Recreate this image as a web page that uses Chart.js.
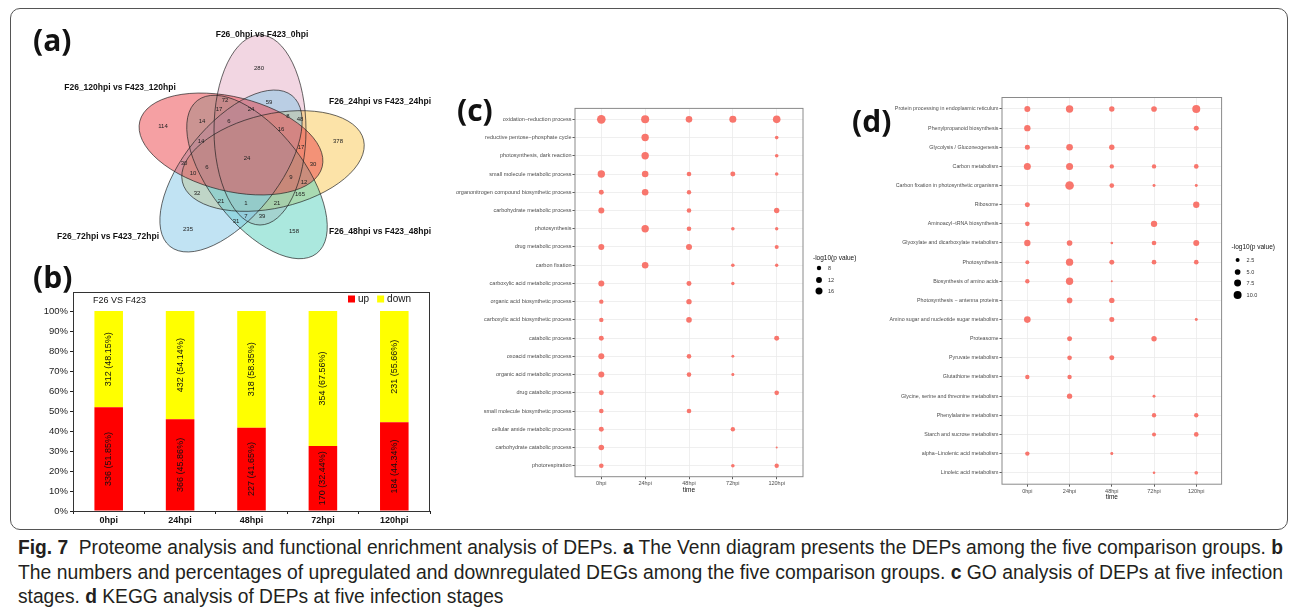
<!DOCTYPE html>
<html><head><meta charset="utf-8">
<script src="https://cdn.jsdelivr.net/npm/chart.js@4.4.0/dist/chart.umd.min.js"></script>
<style>
html,body{margin:0;padding:0;background:#fff;}
body{width:1295px;height:613px;position:relative;overflow:hidden;font-family:"Liberation Sans",Arial,sans-serif;}
canvas{position:absolute;}
.plabel{position:absolute;font-family:"Open Sans","Liberation Sans",sans-serif;font-weight:700;font-size:30px;line-height:1;color:#111;}
#frame{position:absolute;left:10px;top:8px;width:1276px;height:520px;border:1px solid #555;border-radius:10px;}
.cap{position:absolute;left:18px;white-space:nowrap;font-family:"Liberation Sans Narrow","Liberation Sans",sans-serif;font-size:20.5px;line-height:22px;color:#231F20;transform-origin:0 0;}
.cap b{font-weight:700;}
</style></head><body>
<div id="frame"></div>
<canvas id="ca" width="420" height="250" style="left:30px;top:20px"></canvas>
<canvas id="cb" width="420" height="250" style="left:20px;top:280px"></canvas>
<canvas id="cc" width="420" height="410" style="left:450px;top:90px"></canvas>
<canvas id="cd" width="420" height="420" style="left:870px;top:85px"></canvas>
<div class="plabel" style="left:33px;top:25px">(a)</div>
<div class="plabel" style="left:33px;top:262px">(b)</div>
<div class="plabel" style="left:457px;top:95px">(c)</div>
<div class="plabel" style="left:852px;top:106px">(d)</div>
<div class="cap" id="cap1" style="top:536px"><b>Fig. 7</b>&nbsp; Proteome analysis and functional enrichment analysis of DEPs. <b>a</b> The Venn diagram presents the DEPs among the five comparison groups. <b>b</b></div>
<div class="cap" id="cap2" style="top:561px">The numbers and percentages of upregulated and downregulated DEGs among the five comparison groups. <b>c</b> GO analysis of DEPs at five infection</div>
<div class="cap" id="cap3" style="top:585px">stages. <b>d</b> KEGG analysis of DEPs at five infection stages</div>
<script>
// ---------------- DATA ----------------
// (a) Venn
const vennSets = ['F26_0hpi vs F423_0hpi','F26_24hpi vs F423_24hpi','F26_48hpi vs F423_48hpi','F26_72hpi vs F423_72hpi','F26_120hpi vs F423_120hpi'];
const vennCounts = [280,59,72,17,24,8,48,114,14,6,16,378,14,17,24,30,30,6,10,9,12,165,32,21,1,21,7,39,31,235,158];
// (b) stacked bars
const bCategories = ['0hpi','24hpi','48hpi','72hpi','120hpi'];
const upCounts = [336,366,227,170,184];
const downCounts = [312,432,318,354,231];
const upPct = [51.85,45.86,41.65,32.44,44.34];
const downPct = [48.15,54.14,58.35,67.56,55.66];
const bTickValues = [0,10,20,30,40,50,60,70,80,90,100];
// (c) GO bubble
const timeLabels = ['0hpi','24hpi','48hpi','72hpi','120hpi'];
const goTerms = ['oxidation\u2212reduction process','reductive pentose\u2212phosphate cycle','photosynthesis, dark reaction','small molecule metabolic process','organonitrogen compound biosynthetic process','carbohydrate metabolic process','photosynthesis','drug metabolic process','carbon fixation','carboxylic acid metabolic process','organic acid biosynthetic process','carboxylic acid biosynthetic process','catabolic process','oxoacid metabolic process','organic acid metabolic process','drug catabolic process','small molecule biosynthetic process','cellular amide metabolic process','carbohydrate catabolic process','photorespiration'];
const goP0   = [22.8,null,null,17.6,9.5,12.5,null,12.5,null,12.5,8.0,8.0,9.5,12.5,12.5,9.5,8.5,9.5,11.2,8.5];
const goP24  = [20.1,17.6,17.6,14.5,14.5,null,17.6,null,14.5,null,null,null,null,null,null,null,null,null,null,null];
const goP48  = [14.5,null,null,8.5,8.0,8.5,8.5,12.5,null,9.5,10.6,11.2,null,8.5,8.5,null,8.5,null,null,null];
const goP72  = [16.0,null,null,9.5,null,null,6.3,null,6.3,5.9,null,null,null,5.2,5.2,null,null,8.0,null,6.3];
const goP120 = [18.3,6.3,6.3,6.3,null,10.6,5.9,7.1,5.9,null,null,null,9.5,null,null,8.5,null,null,3.9,8.0];
const goLegendVals = [8,12,16];
// (d) KEGG bubble
const keggTerms = ['Protein processing in endoplasmic reticulum','Phenylpropanoid biosynthesis','Glycolysis / Gluconeogenesis','Carbon metabolism','Carbon fixation in photosynthetic organisms','Ribosome','Aminoacyl\u2212tRNA biosynthesis','Glyoxylate and dicarboxylate metabolism','Photosynthesis','Biosynthesis of amino acids','Photosynthesis \u2212 antenna proteins','Amino sugar and nucleotide sugar metabolism','Proteasome','Pyruvate metabolism','Glutathione metabolism','Glycine, serine and threonine metabolism','Phenylalanine metabolism','Starch and sucrose metabolism','alpha\u2212Linolenic acid metabolism','Linoleic acid metabolism'];
const keggP0   = [5.6,6.3,3.9,7.7,null,3.9,3.4,6.3,2.5,3.0,null,6.9,null,null,3.0,null,null,null,3.0,null];
const keggP24  = [8.5,null,6.9,7.7,11.6,null,null,5.0,8.5,8.5,5.0,null,3.9,3.4,3.0,4.5,null,null,null,null];
const keggP48  = [4.5,null,4.5,3.0,3.4,null,null,1.1,3.9,0.6,4.5,3.9,null,3.9,null,null,null,null,1.4,null];
const keggP72  = [5.0,null,null,3.0,1.4,null,6.3,3.4,3.4,null,null,null,4.5,null,null,1.4,3.0,2.5,null,1.1];
const keggP120 = [10.0,3.9,null,3.4,1.4,6.3,null,5.6,3.4,null,null,1.4,null,null,null,null,3.0,3.4,null,2.1];
const keggLegendVals = [2.5,5.0,7.5,10.0];

// ---------------- LAYOUT (page pixel coordinates) ----------------
const vennCountPos = [[259,68],[269,102],[225,100],[219,109],[251,109],[288,116],[300,119],[163,126],[202,121],[229,121],[281,129],[338,141],[201,141],[301,147],[247,158],[313,164],[184,163],[207,167],[193,173],[291,177],[304,182],[300,194],[197,193],[221,201],[246,203],[277,203],[246,216],[262,216],[236,221],[188,229],[294,231]];
const vennShapes = [
  {cx:260,cy:130,a:95,b:46,rot:90, fill:'rgba(229,173,197,0.5)'},
  {cx:273,cy:161,a:93,b:47,rot:-13,fill:'rgba(249,199,81,0.5)'},
  {cx:257,cy:177,a:97,b:47,rot:52, fill:'rgba(87,209,189,0.5)'},
  {cx:231,cy:171,a:97,b:47,rot:-51,fill:'rgba(131,199,231,0.5)'},
  {cx:231,cy:144,a:94,b:47,rot:14, fill:'rgba(235,65,71,0.5)'}
];
const vennLabelPos = [[262,35],[380,102],[380,232],[108,237],[120,88]];

Chart.defaults.font.family = "'Liberation Sans', Arial, sans-serif";
Chart.defaults.animation = false;
Chart.defaults.events = [];
Chart.defaults.plugins.legend.display = false;
Chart.defaults.plugins.tooltip.enabled = false;

// ---------------- (a) Venn ----------------
new Chart(document.getElementById('ca'), {
  type: 'scatter',
  data: { datasets: [{ data: vennCounts.map((v,i)=>({x:vennCountPos[i][0], y:vennCountPos[i][1], v:v})), pointRadius:0 }] },
  options: {
    responsive:false, layout:{padding:0},
    scales: { x:{type:'linear',min:30,max:450,display:false}, y:{type:'linear',min:20,max:270,reverse:true,display:false} }
  },
  plugins: [{
    id:'venn',
    beforeDatasetsDraw(chart){
      const {ctx, scales:{x,y}} = chart;
      ctx.save();
      vennShapes.forEach(s=>{
        ctx.beginPath();
        ctx.ellipse(x.getPixelForValue(s.cx), y.getPixelForValue(s.cy), s.a, s.b, s.rot*Math.PI/180, 0, Math.PI*2);
        ctx.fillStyle = s.fill; ctx.fill();
      });
      vennShapes.forEach(s=>{
        ctx.beginPath();
        ctx.ellipse(x.getPixelForValue(s.cx), y.getPixelForValue(s.cy), s.a, s.b, s.rot*Math.PI/180, 0, Math.PI*2);
        ctx.strokeStyle = 'rgba(30,30,30,0.85)'; ctx.lineWidth = 0.8; ctx.stroke();
      });
      ctx.restore();
    },
    afterDatasetsDraw(chart){
      const {ctx, scales:{x,y}} = chart;
      const meta = chart.getDatasetMeta(0);
      ctx.save();
      ctx.textAlign='center'; ctx.textBaseline='middle';
      ctx.fillStyle='#222'; ctx.font="6px 'Liberation Sans', Arial, sans-serif";
      meta.data.forEach((pt,i)=>{ ctx.fillText(String(chart.data.datasets[0].data[i].v), pt.x, pt.y); });
      ctx.font="bold 8.5px 'Liberation Sans', Arial, sans-serif"; ctx.fillStyle='#111';
      vennSets.forEach((s,i)=>{ ctx.fillText(s, x.getPixelForValue(vennLabelPos[i][0]), y.getPixelForValue(vennLabelPos[i][1])); });
      ctx.restore();
    }
  }]
});

// ---------------- (b) stacked bars ----------------
new Chart(document.getElementById('cb'), {
  type:'bar',
  data:{ labels:bCategories, datasets:[
    {label:'up', data:upPct, counts:upCounts, backgroundColor:'#FF0000', categoryPercentage:1, barPercentage:0.4},
    {label:'down', data:downPct, counts:downCounts, backgroundColor:'#FFFF00', categoryPercentage:1, barPercentage:0.4}
  ]},
  options:{
    responsive:false,
    layout:{padding:{top:12,right:10,bottom:0,left:0}},
    scales:{
      x:{stacked:true, grid:{display:true,drawOnChartArea:false,tickLength:3,color:'#222'}, border:{color:'#222'},
         ticks:{color:'#111',font:{size:9,weight:'bold'},padding:1,maxRotation:0},
         afterFit(s){ s.height = 19; }},
      y:{stacked:true, min:0, max:109.5, grid:{drawOnChartArea:false,tickLength:3,color:'#222'}, border:{color:'#222'},
         afterBuildTicks(s){ s.ticks = bTickValues.map(v=>({value:v})); },
         ticks:{color:'#222',font:{size:9.5},padding:2, callback:v=>v+'%'},
         afterFit(s){ s.width = 53; }}
    }
  },
  plugins:[{
    id:'blabels',
    afterDatasetsDraw(chart){
      const ctx = chart.ctx; const ca = chart.chartArea;
      ctx.save();
      ctx.font="9px 'Liberation Sans', Arial, sans-serif"; ctx.fillStyle='#111';
      ctx.textAlign='center'; ctx.textBaseline='middle';
      chart.data.datasets.forEach((ds,di)=>{
        chart.getDatasetMeta(di).data.forEach((bar,i)=>{
          const cy=(bar.y+bar.base)/2;
          ctx.save(); ctx.translate(bar.x, cy); ctx.rotate(-Math.PI/2);
          ctx.fillText(ds.counts[i]+' ('+ds.data[i].toFixed(2)+'%)',0,0);
          ctx.restore();
        });
      });
      ctx.strokeStyle='#333'; ctx.lineWidth=1;
      ctx.strokeRect(ca.left+0.5, ca.top+0.5, ca.right-ca.left-1, ca.bottom-ca.top);
      ctx.textAlign='left'; ctx.font="9px 'Liberation Sans', Arial, sans-serif"; ctx.fillStyle='#111';
      ctx.fillText('F26 VS F423', ca.left+20, ca.top+9);
      let lx = ca.right-82; const ly = ca.top+7;
      chart.data.datasets.forEach(ds=>{
        ctx.fillStyle=ds.backgroundColor; ctx.fillRect(lx, ly-3.5, 7, 7);
        ctx.fillStyle='#111'; ctx.font="10px 'Liberation Sans', Arial, sans-serif";
        ctx.fillText(ds.label, lx+10, ly+0.5);
        lx += 10 + ctx.measureText(ds.label).width + 8;
      });
      ctx.restore();
    }
  }]
});

// ---------------- bubble helpers ----------------
const sizeC = v => Math.sqrt(Math.max(0.926*v - 2.57, 0.8));
const sizeD = v => Math.sqrt(1.6*v);
function bubblePoints(cols){
  const pts=[];
  cols.forEach((col,j)=>col.forEach((v,i)=>{ if(v!==null) pts.push({x:j,y:i,v:v}); }));
  return pts;
}
function bubbleChart(id, terms, cols, sizeFn, legendVals, geom){
  new Chart(document.getElementById(id), {
    type:'scatter',
    data:{ datasets:[{ data:bubblePoints(cols), backgroundColor:'#F8766D', borderWidth:0,
      pointRadius: c => sizeFn(c.raw.v) }]},
    options:{
      responsive:false,
      layout:{padding:{top:geom.top,right:geom.right,bottom:geom.bottom,left:0}},
      scales:{
        x:{type:'linear',min:-0.6,max:4.6,
           afterBuildTicks(s){ s.ticks = timeLabels.map((t,i)=>({value:i})); },
           ticks:{callback:v=>timeLabels[v], color:'#4D4D4D', font:{size:5.5}, padding:1, maxRotation:0, autoSkip:false},
           grid:{color:'#EBEBEB', lineWidth:0.8, tickLength:2.5, tickColor:'#333'}, border:{display:false},
           title:{display:true,text:'time',color:'#111',font:{size:6.5},padding:0},
           afterFit(s){ s.height = geom.xh; }},
        y:{type:'linear',min:-0.6,max:terms.length-0.4,reverse:true,
           afterBuildTicks(s){ s.ticks = terms.map((t,i)=>({value:i})); },
           ticks:{callback:v=>terms[v], color:'#4D4D4D', font:{size:geom.fs}, padding:1, autoSkip:false},
           grid:{color:'#EBEBEB', lineWidth:0.8, tickLength:2.5, tickColor:'#333'}, border:{display:false},
           afterFit(s){ s.width = geom.yw; }}
      }
    },
    plugins:[{
      id:'frameLegend',
      beforeDatasetsDraw(chart){
        const ctx=chart.ctx, ca=chart.chartArea;
        ctx.save(); ctx.strokeStyle='#8a8a8a'; ctx.lineWidth=1;
        ctx.strokeRect(ca.left, ca.top, ca.right-ca.left, ca.bottom-ca.top);
        ctx.restore();
      },
      afterDraw(chart){
        const ctx=chart.ctx, ca=chart.chartArea;
        ctx.save();
        ctx.fillStyle='#111'; ctx.textBaseline='middle'; ctx.textAlign='left';
        ctx.font="6.5px 'Liberation Sans', Arial, sans-serif";
        ctx.fillText('-log10(p value)', ca.right+geom.lgx, geom.lgTitleY);
        ctx.font="5.5px 'Liberation Sans', Arial, sans-serif";
        legendVals.forEach((v,i)=>{
          const yy = geom.lgItemY[i];
          ctx.beginPath(); ctx.arc(ca.right+geom.lgx+6, yy, sizeFn(v), 0, Math.PI*2); ctx.fillStyle='#000'; ctx.fill();
          ctx.fillStyle='#333'; ctx.fillText(Number.isInteger(v)&&legendVals.every(Number.isInteger)?String(v):v.toFixed(1), ca.right+geom.lgx+15, yy);
        });
        ctx.restore();
      }
    }]
  });
}
bubbleChart('cc', goTerms, [goP0,goP24,goP48,goP72,goP120], sizeC, goLegendVals,
  {top:18.4, right:67, bottom:6, xh:17.3, yw:125, fs:5.5, lgx:10, lgTitleY:168, lgItemY:[178,190,201]});
bubbleChart('cd', keggTerms, [keggP0,keggP24,keggP48,keggP72,keggP120], sizeD, keggLegendVals,
  {top:12.5, right:68.4, bottom:4, xh:16.8, yw:132, fs:5.3, lgx:10, lgTitleY:162, lgItemY:[175,187,198,210]});

// ---------------- caption fitting ----------------
function fitCaption(){
  const w = id => document.getElementById(id).getBoundingClientRect().width;
  const s1 = 1265 / w('cap1'), s2 = 1265 / w('cap2');
  document.getElementById('cap1').style.transform = 'scaleX('+s1+')';
  document.getElementById('cap2').style.transform = 'scaleX('+s2+')';
  document.getElementById('cap3').style.transform = 'scaleX('+s1+')';
}
fitCaption();
</script>
</body></html>
